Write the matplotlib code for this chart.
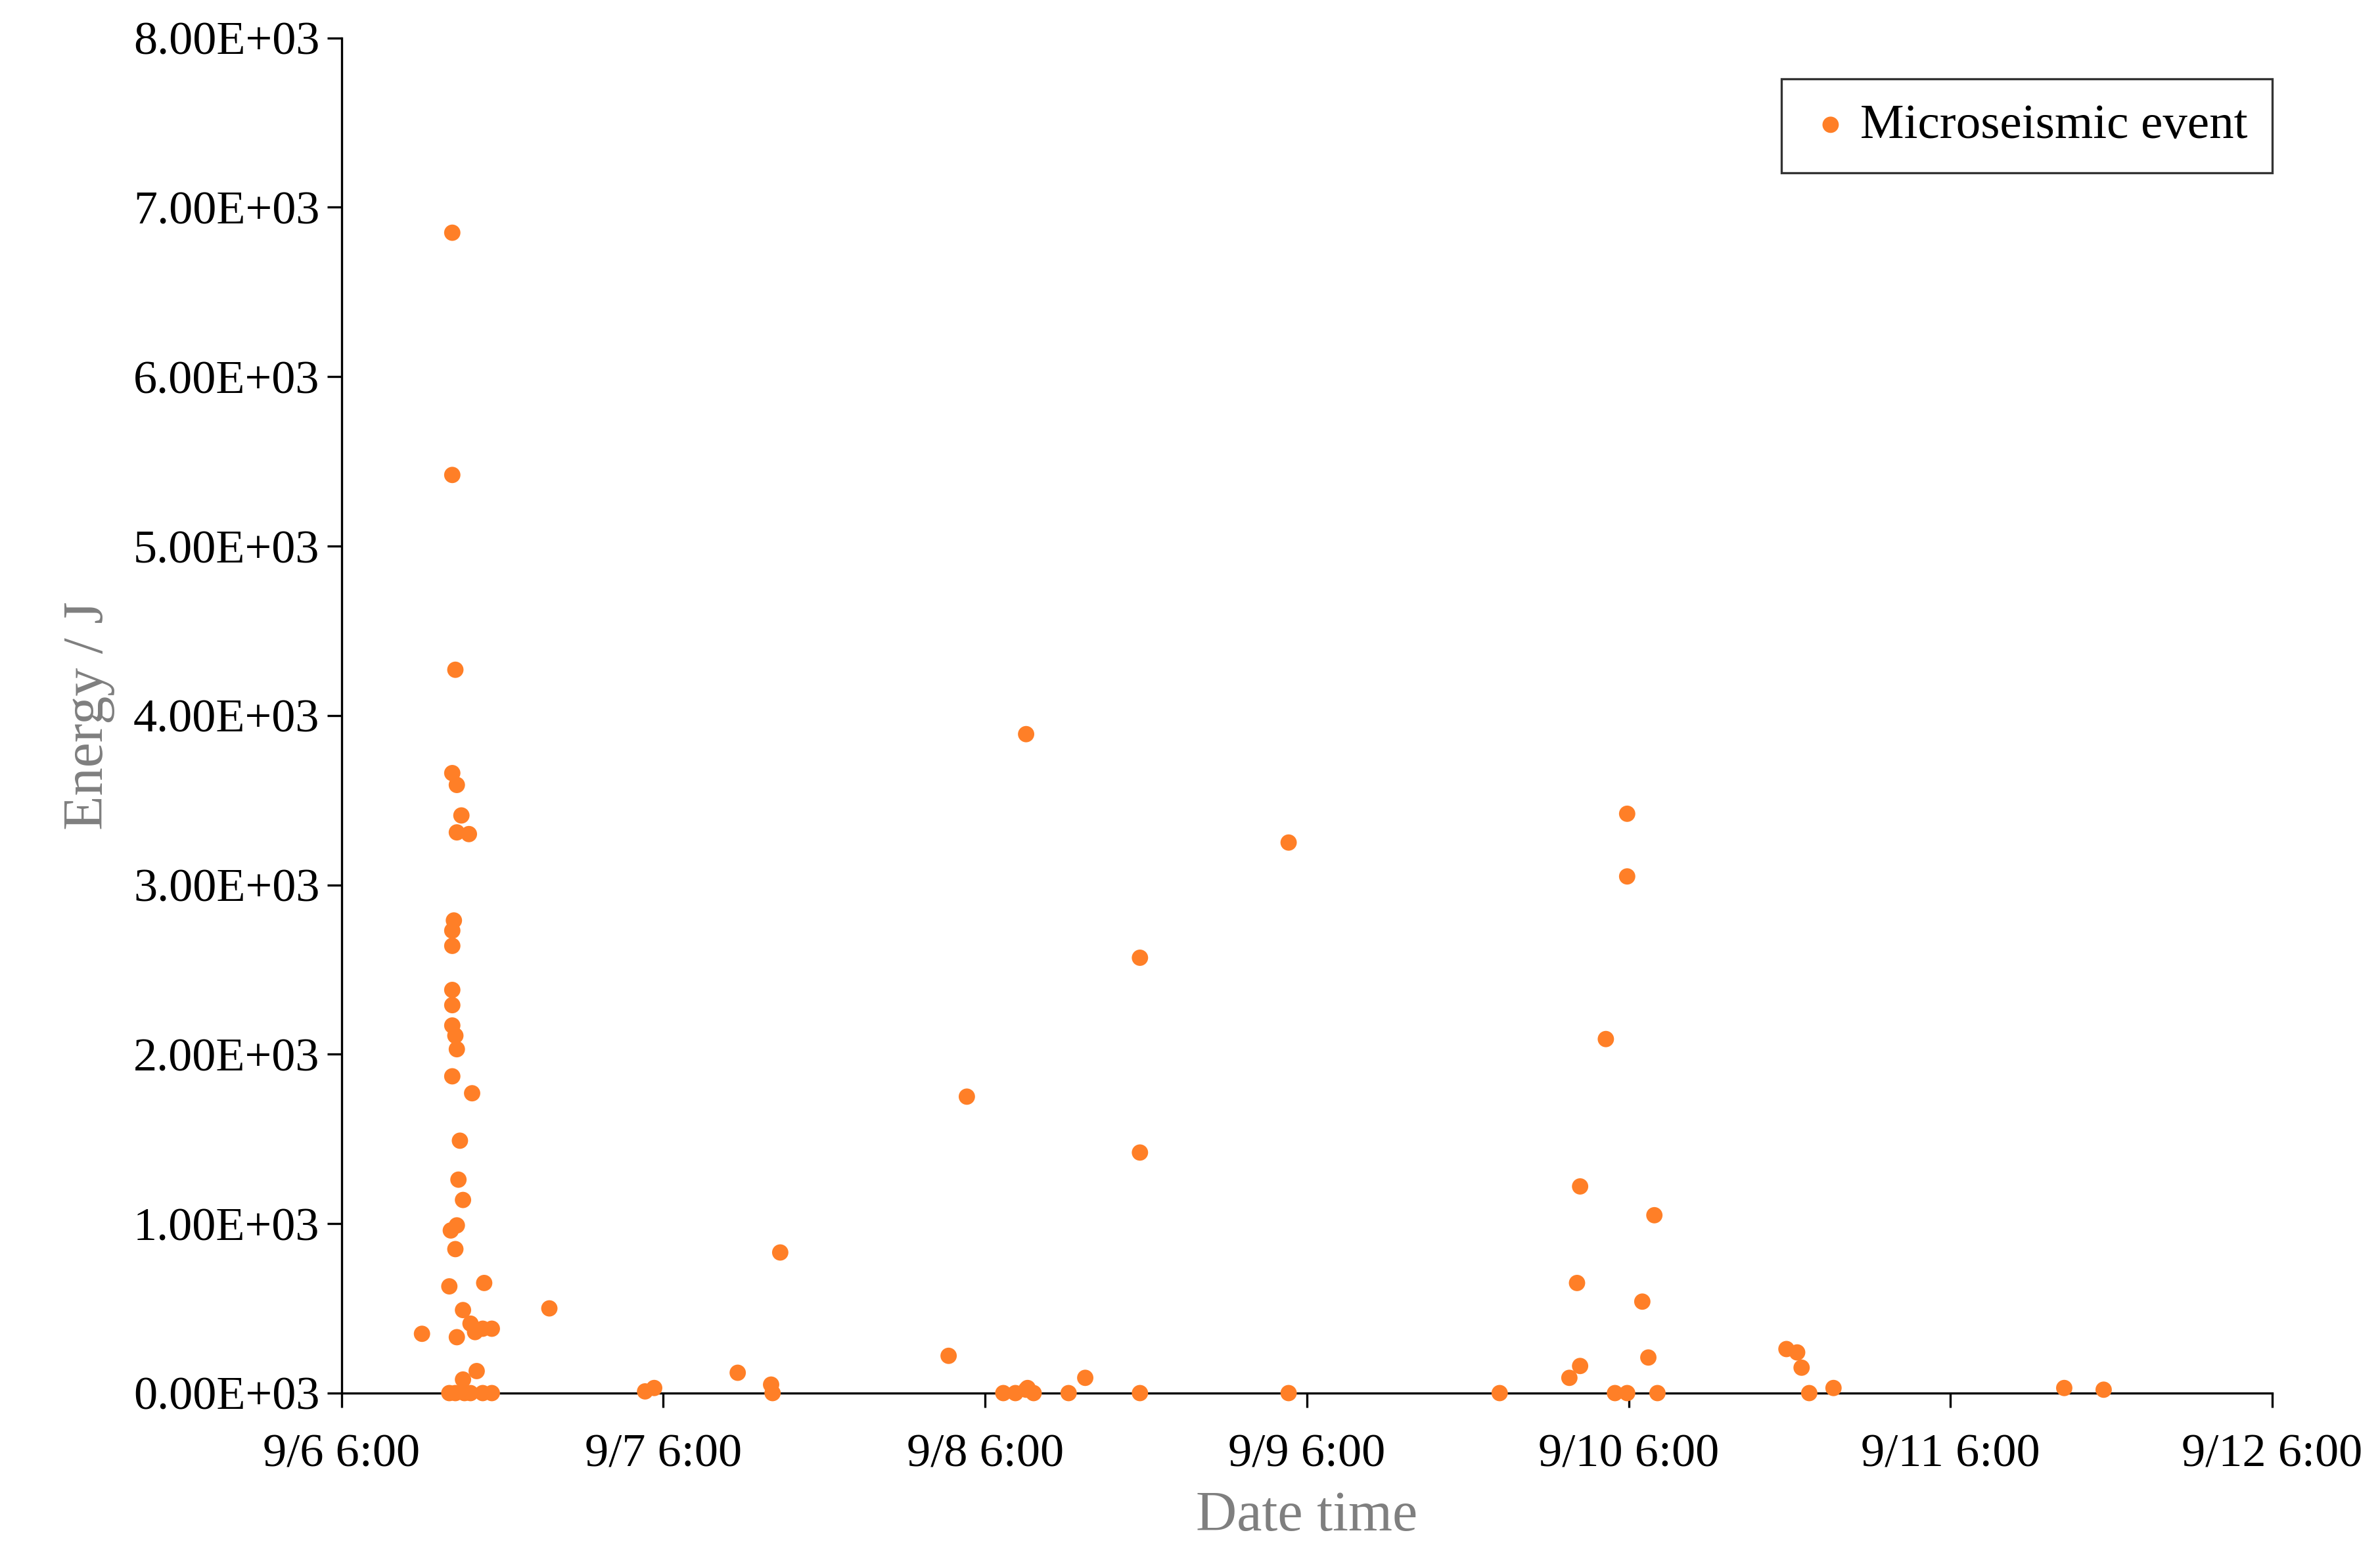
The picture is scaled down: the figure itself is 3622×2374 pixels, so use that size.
import pandas as pd
import matplotlib
matplotlib.use('Agg')
import matplotlib.pyplot as plt

# hours elapsed since 9/6 6:00, and event energy (J)
hours = [6.0, 8.26, 8.26, 8.49, 8.26, 8.6, 8.94, 8.6, 9.5, 8.38,
         8.26, 8.26, 8.26, 8.26, 8.26, 8.49, 8.6, 8.26, 9.74, 8.83,
         8.72, 9.06, 8.6, 8.15, 8.49, 10.64, 8.04, 9.06, 9.62, 10.53,
         11.21, 9.96, 8.6, 10.08, 9.06,
         8.04, 8.49, 9.17, 9.62, 10.53, 11.21,
         15.5, 22.64, 23.32, 29.55, 32.04, 32.15, 32.72, 45.28, 46.64,
         49.36, 50.26, 51.06, 51.62, 51.17, 51.06, 54.23, 55.47,
         59.55, 59.55, 59.55, 70.64, 70.64, 86.38, 91.58, 92.15, 92.38,
         92.38, 94.3, 94.98, 95.89, 95.89, 95.89, 97.02, 97.47, 97.92,
         98.15, 107.77, 108.57, 108.9, 109.47, 111.28, 128.49, 131.43]
energy = [350, 6850, 5420, 4270, 3660, 3590, 3410, 3310, 3300, 2790,
          2730, 2640, 2380, 2290, 2170, 2110, 2030, 1870, 1770, 1490,
          1260, 1140, 990, 960, 850, 650, 630, 490, 410, 380,
          380, 360, 330, 130, 80,
          0, 0, 0, 0, 0, 0,
          500, 10, 30, 120, 50, 0, 830, 220, 1750,
          0, 0, 20, 0, 30, 3890, 0, 90,
          2570, 1420, 0, 3250, 0, 0, 90, 650, 1220,
          160, 2090, 0, 0, 3420, 3050, 540, 210, 1050,
          0, 260, 240, 150, 0, 30, 30, 20]

start = pd.Timestamp('2023-09-06 06:00')
times = start + pd.to_timedelta(hours, unit='h')

plt.rcParams['font.family'] = ['Liberation Serif', 'DejaVu Serif']

fig = plt.figure(figsize=(18.11, 11.87), dpi=200)
ax = fig.add_axes([0.1435, 0.107, 0.8112, 0.8687])
ax.scatter(times, energy, s=80, color='#FF7F27', edgecolors='none',
           label='Microseismic event', zorder=3, clip_on=False)

ax.set_xlim(start, start + pd.Timedelta(days=6))
ax.set_ylim(0, 8000)
ax.set_xticks([start + pd.Timedelta(days=i) for i in range(7)])
ax.set_xticklabels([f'9/{6 + i} 6:00' for i in range(7)])
ax.set_yticks(range(0, 8001, 1000))
ax.set_yticklabels([f'{v / 1000:.2f}E+03' for v in range(0, 8001, 1000)])
ax.tick_params(labelsize=26, length=8, width=1.2, direction='out')
ax.tick_params(axis='x', pad=14)
ax.tick_params(axis='y', pad=4)

for side in ['top', 'right']:
    ax.spines[side].set_visible(False)
for side in ['left', 'bottom']:
    ax.spines[side].set_linewidth(1.2)

ax.set_xlabel('Date time', fontsize=31, color='#7f7f7f', labelpad=8)
ax.set_ylabel('Energy / J', fontsize=31, color='#7f7f7f', labelpad=10)

leg = ax.legend(loc='upper right', fontsize=27, fancybox=False,
                edgecolor='black', handletextpad=0.1, borderpad=0.5,
                handlelength=1.0, bbox_to_anchor=(1.0, 0.97),
                borderaxespad=0)
leg.get_frame().set_linewidth(1.2)

fig.savefig('out.png', dpi=200)
